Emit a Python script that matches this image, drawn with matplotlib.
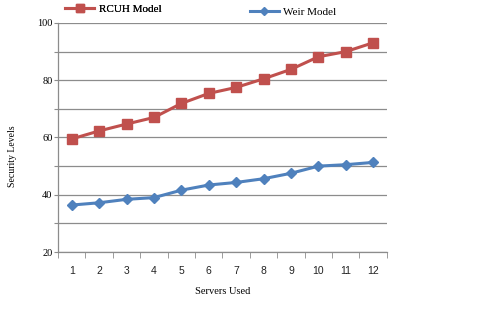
"""
Security levels vs servers used: RCUH model vs Weir model
"""

import matplotlib
matplotlib.use('Agg')
import matplotlib.pyplot as plt
from matplotlib.ticker import MultipleLocator, FixedLocator, FuncFormatter

servers = [1, 2, 3, 4, 5, 6, 7, 8, 9, 10, 11, 12]
rcuh = [59.5, 62.3, 64.7, 67.0, 71.9, 75.4, 77.5, 80.5, 83.8, 88.2, 90.0, 93.1]
weir = [36.4, 37.2, 38.4, 39.0, 41.6, 43.4, 44.3, 45.6, 47.5, 50.0, 50.5, 51.3]
y_labels = [20, 40, 60, 80, 100]

RED = '#C0504D'
BLUE = '#4F81BD'
GRID = '#8c8c8c'
SERIF = ['Liberation Serif', 'DejaVu Serif']
SANS = ['Liberation Sans', 'DejaVu Sans']

fig = plt.figure(figsize=(4.8, 3.15), dpi=100)
ax = fig.add_axes([0.121, 0.2, 0.685, 0.727])

l1, = ax.plot(servers, rcuh, color=RED, lw=2.2, marker='s', ms=6.5,
              label='RCUH Model')
l2, = ax.plot(servers, weir, color=BLUE, lw=2.2, marker='D', ms=5,
              label='Weir Model')

ax.set_xlim(0.5, 12.5)
ax.set_ylim(20, 100)

# grid every 10, labels every 20
ax.yaxis.set_major_locator(MultipleLocator(10))
ax.yaxis.set_major_formatter(FuncFormatter(
    lambda v, pos: str(int(round(v))) if int(round(v)) in y_labels else ''))
ax.yaxis.grid(True, color=GRID, lw=0.9)
ax.set_axisbelow(True)

ax.xaxis.set_major_locator(FixedLocator(servers))
ax.xaxis.set_minor_locator(FixedLocator([s - 0.5 for s in servers] + [12.5]))
ax.tick_params(axis='x', which='major', length=0, pad=10, labelsize=7.5,
               labelcolor='#222222')
ax.tick_params(axis='x', which='minor', length=4, color=GRID, direction='out')
ax.tick_params(axis='y', length=3, color=GRID, labelsize=7.5, pad=1)
for lab in ax.get_xticklabels():
    lab.set_family(SANS)
for lab in ax.get_yticklabels():
    lab.set_family(SERIF)

for side in ['top', 'right']:
    ax.spines[side].set_visible(False)
for side in ['left', 'bottom']:
    ax.spines[side].set_color(GRID)
    ax.spines[side].set_linewidth(0.9)

ax.set_xlabel('Servers Used', family=SERIF, fontsize=7.5, labelpad=8)
ax.set_ylabel('Security Levels', family=SERIF, fontsize=7)
ax.yaxis.set_label_coords(-0.125, 0.42)

leg1 = fig.legend(handles=[l1], loc='center left', bbox_to_anchor=(0.115, 0.972),
                  frameon=False, prop={'family': SERIF, 'size': 8},
                  handlelength=2.6, handletextpad=0.4, markerscale=0.9)
fig.add_artist(leg1)
fig.legend(handles=[l2], loc='center left', bbox_to_anchor=(0.5, 0.962),
           frameon=False, prop={'family': SERIF, 'size': 8},
           handlelength=2.6, handletextpad=0.4, markerscale=0.9)

plt.savefig('out.png', dpi=100)
